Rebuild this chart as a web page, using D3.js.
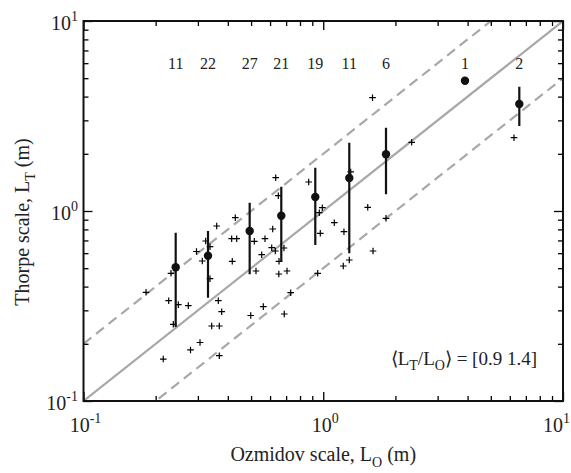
<!DOCTYPE html>
<html><head><meta charset="utf-8">
<script src="https://cdn.jsdelivr.net/npm/d3@7"></script>
<style>body{margin:0;background:#fff}</style>
</head><body>
<svg id="c" width="571" height="473"></svg>
<script>
// Bin means (filled circles) with error bars
const binLO   = [0.2424,0.3306,0.4933,0.6683,0.9264,1.284,1.827,3.901,6.573];
const binLT   = [0.5057,0.5816,0.7847,0.9447,1.185,1.492,1.988,4.85,3.658];
const binLow  = [0.245,0.3498,0.4644,0.541,0.6625,0.599,1.224,null,2.802];
const binHigh = [0.769,0.7847,1.106,1.342,1.69,2.288,2.744,null,4.511];
const binCounts = ["11","22","27","21","19","11","6","1","2"];
// Individual estimates (crosses)
const crossLO = [0.1823,0.2317,0.2267,0.2486,0.2736,0.2369,0.2151,0.296,0.313,0.3233,
  0.337,0.337,0.3594,0.365,0.377,0.3425,0.3685,0.2795,0.3062,0.3685,
  0.415,0.4355,0.4297,0.4174,0.5157,0.5242,0.4983,0.5537,0.5623,0.5715,
  0.6155,0.6095,0.631,0.6335,0.6494,0.6538,0.6527,0.6859,0.706,0.6878,
  0.7315,0.8695,0.991,0.9627,0.9721,0.948,1.112,1.22,1.284,1.212,
  1.302,1.533,1.613,1.605,1.827,2.338,6.246];
const crossLT = [0.3734,0.470,0.3373,0.3214,0.3175,0.2533,0.1663,0.612,0.5456,0.6952,
  0.6487,0.4402,0.834,0.3373,0.2951,0.2481,0.2481,0.1856,0.2032,0.1731,
  0.7148,0.7148,0.922,0.5437,0.6927,0.4833,0.2818,0.5888,0.3137,0.7148,
  0.8041,0.641,0.6158,1.497,1.204,0.5437,0.466,0.6387,0.4833,0.2870,
  0.3715,1.421,1.041,0.9797,0.7632,0.470,0.868,0.778,0.5522,0.5135,
  1.605,1.046,0.6158,3.948,0.9155,2.299,2.431];
// Reference lines L_T = r * L_O
const refRatios = [1, 2, 0.5];
const majorTicks = [0.1, 1, 10];
const minorTicks = [0.2,0.3,0.4,0.5,0.6,0.7,0.8,0.9,2,3,4,5,6,7,8,9];
const tickExp = ["-1","0","1"];

const svg = d3.select("#c");
const FONT = "'Liberation Serif','Times New Roman',serif";
const L = 83.5, R = 563, T = 21, B = 401;
const x = d3.scaleLog().domain([0.1, 10]).range([L, R]);
const y = d3.scaleLog().domain([0.1, 10]).range([B, T]);

svg.append("defs").append("clipPath").attr("id","clip")
  .append("rect").attr("x",L).attr("y",T).attr("width",R-L).attr("height",B-T);

const plot = svg.append("g").attr("clip-path","url(#clip)");

// reference lines
refRatios.forEach(r => {
  plot.append("line")
    .attr("x1", x(0.1)).attr("y1", y(0.1*r))
    .attr("x2", x(10)).attr("y2", y(10*r))
    .attr("stroke", "#a8a8a8").attr("stroke-width", 2.2)
    .attr("stroke-dasharray", r === 1 ? null : "10,6");
});

// crosses
const cs = 3.3;
crossLO.forEach((v,i) => {
  const cx = x(v), cy = y(crossLT[i]);
  plot.append("path")
    .attr("d", `M${cx-cs},${cy}H${cx+cs}M${cx},${cy-cs}V${cy+cs}`)
    .attr("stroke","#000").attr("stroke-width",1.2).attr("fill","none");
});

// error bars
binLO.forEach((v,i) => {
  if (binLow[i] == null) return;
  plot.append("line").attr("x1",x(v)).attr("x2",x(v))
    .attr("y1",y(binLow[i])).attr("y2",y(binHigh[i]))
    .attr("stroke","#111").attr("stroke-width",2.2);
});
// mean points
binLO.forEach((v,i) => {
  plot.append("circle").attr("cx",x(v)).attr("cy",y(binLT[i])).attr("r",4.2)
    .attr("fill","#111");
});

// counts
binLO.forEach((v,i) => {
  svg.append("text").attr("x",x(v)).attr("y",69)
    .attr("text-anchor","middle").attr("font-family",FONT).attr("font-size",16)
    .attr("fill","#222").text(binCounts[i]);
});

// axes ticks (inward on all four sides)
function ticks(axisFn, scale, pos, vals, len) {
  svg.append("g").attr("transform", pos)
    .call(axisFn(scale).tickValues(vals).tickSize(len).tickFormat(""))
    .call(g => { g.select(".domain").remove();
      g.selectAll("line").attr("stroke","#000").attr("stroke-width",1.3); });
}
ticks(d3.axisBottom, x, `translate(0,${B})`, majorTicks, -9);
ticks(d3.axisBottom, x, `translate(0,${B})`, minorTicks, -5);
ticks(d3.axisTop, x, `translate(0,${T})`, majorTicks, -9);
ticks(d3.axisTop, x, `translate(0,${T})`, minorTicks, -5);
ticks(d3.axisLeft, y, `translate(${L},0)`, majorTicks, -9);
ticks(d3.axisLeft, y, `translate(${L},0)`, minorTicks, -5);
ticks(d3.axisRight, y, `translate(${R},0)`, majorTicks, -9);
ticks(d3.axisRight, y, `translate(${R},0)`, minorTicks, -5);

// frame
svg.append("rect").attr("x",L).attr("y",T).attr("width",R-L).attr("height",B-T)
  .attr("fill","none").attr("stroke","#111").attr("stroke-width",2);

// tick labels
majorTicks.forEach((v,i) => {
  const last = i === majorTicks.length - 1;
  const tx = svg.append("text")
    .attr("x", last ? 570 : x(v) + 2).attr("y", 432)
    .attr("text-anchor", last ? "end" : "middle")
    .attr("font-family",FONT).attr("font-size",20).attr("fill","#222");
  tx.append("tspan").text("10");
  tx.append("tspan").attr("dy",-9).attr("font-size",14).text(tickExp[i]);
  const ty = svg.append("text").attr("x", 78).attr("y", y(v)+9)
    .attr("text-anchor","end").attr("font-family",FONT).attr("font-size",20).attr("fill","#222");
  ty.append("tspan").text("10");
  ty.append("tspan").attr("dy",-9).attr("font-size",14).text(tickExp[i]);
});

// axis titles
const xt = svg.append("text").attr("x",(L+R)/2).attr("y",461)
  .attr("text-anchor","middle").attr("font-family",FONT).attr("font-size",20).attr("fill","#222");
xt.append("tspan").text("Ozmidov scale, L");
xt.append("tspan").attr("dy",6).attr("font-size",14).text("O");
xt.append("tspan").attr("dy",-6).text(" (m)");

const yt = svg.append("text").attr("transform","translate(29,222) rotate(-90)")
  .attr("text-anchor","middle").attr("font-family",FONT).attr("font-size",20).attr("fill","#222");
yt.append("tspan").text("Thorpe scale, L");
yt.append("tspan").attr("dy",6).attr("font-size",14).text("T");
yt.append("tspan").attr("dy",-6).text(" (m)");

// annotation
const an = svg.append("text").attr("x",537).attr("y",365)
  .attr("text-anchor","end").attr("font-family",FONT).attr("font-size",19).attr("fill","#222");
an.append("tspan").text("\u27E8L");
an.append("tspan").attr("dy",5).attr("font-size",14).text("T");
an.append("tspan").attr("dy",-5).text("/L");
an.append("tspan").attr("dy",5).attr("font-size",14).text("O");
an.append("tspan").attr("dy",-5).text("\u27E9 = [0.9 1.4]");
</script>
</body></html>
